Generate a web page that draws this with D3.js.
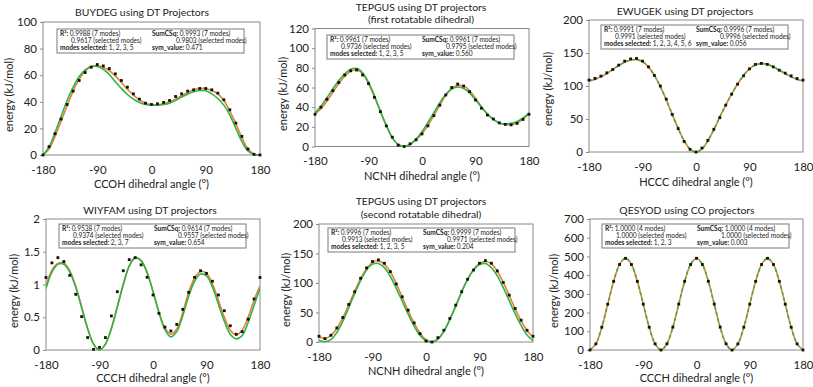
<!DOCTYPE html>
<html><head><meta charset="utf-8">
<script src="https://cdn.jsdelivr.net/npm/d3@7/dist/d3.min.js"></script>
<style>
body{margin:0;background:#fff}
svg{display:block}
text{font-family:Lato,"Open Sans",sans-serif;fill:#222}
</style>
</head><body>
<svg id="chart" width="813" height="387"></svg>
<script>
// ---------- DATA ----------
const angles = [-180,-170,-160,-150,-140,-130,-120,-110,-100,-90,-80,-70,-60,-50,-40,-30,-20,-10,0,10,20,30,40,50,60,70,80,90,100,110,120,130,140,150,160,170,180];
const xTicks = [-180,-90,0,90,180];

// BUYDEG
const buydegDots  = [0,6.3,16,27,38,48,56,62,66,68,67,65,61,56,51,46,42,39,38,38.5,39.5,41,44,46,48,49,50,50,49,46.5,41.5,34,24,14,4.5,0.5,0];
const buydegFit7  = [0,4.5,14,25.5,37,48,57,63,66.5,67,66,63.5,59.5,54.5,49.5,45,41.5,39,37.8,37.8,38.6,40,42,44.5,47,49,50,50,48.5,46,41,33,23.5,13,4.5,0.8,0];
const buydegFitSel= [0,6,17,29,41,51,59,64,66.5,66.5,64.5,60.5,55,50,45.5,42,39.5,38,37.5,37.5,38,39,41,43.5,45.7,47.5,48.5,48.3,46,42.5,37.5,30,20,10,3,0.3,0];
const buydegYTicks = [0,20,40,60,80,100];
const buydegInfo = ["0.9988 (7 modes)","0.9617 (selected modes)","1, 2, 3, 5","0.9993 (7 modes)","0.9803 (selected modes)","0.471"];

// TEPGUS first dihedral
const tepgus1Dots  = [32.8,40,48,56.8,65,72.7,77,77.8,72.7,64,50,35.5,21,9.5,1.4,0,2.7,6.8,12.8,21,31.4,42,52.4,60,63.5,61.5,55.8,47.3,38.9,32,28,24,22.5,22,23.5,27.5,32.8];
const tepgus1Fit7  = [33,38.5,46,55,64,71.5,76.5,78,74,64,50.5,35.5,21,9,2,0,2.5,7,13,21.5,31.5,42,52,59,62,61.5,57,49,40.5,33,27.5,24,22.3,22.3,24,28,33];
const tepgus1FitSel= [34,41,49.5,58.5,67,74,78.5,79.5,75,65.5,51.5,36,21.5,9,2,0,2,7.5,15,24.5,34.5,44.5,53,58.5,60.5,59,54.5,47.5,40,33,27.5,24,23,23.5,25.5,29,34];
const tepgus1YTicks = [0,20,40,60,80,100,120];
const tepgus1Info = ["0.9961 (7 modes)","0.9736 (selected modes)","1, 2, 3, 5","0.9961 (7 modes)","0.9795 (selected modes)","0.560"];

// EWUGEK
const ewugekDots  = [109,111.6,115,120,125,131.6,137.7,141,141.8,137.7,129,116,100,80,57,35.4,16,4,0,6,17.7,34.4,52,71,87.6,102.8,115.4,126,132.7,134.2,132.7,129,124,119.5,115.4,111.4,109];
const ewugekFit7  = [108,110,114,119,125,131,136,139.5,140,137,129,116,99,79,57,36,17,4.5,0,4.5,17,34,53,71,88,103,116,126,132,134,133,129,124,119,114,110,108];
const ewugekFitSel= [108,110,114,119,125,131,136,139.5,140,137,129,116,99,79,57,36,17,4.5,0,4.5,17,34,53,71,88,103,116,126,132,134,133,129,124,119,114,110,108];
const ewugekYTicks = [0,50,100,150,200];
const ewugekInfo = ["0.9991 (7 modes)","0.9991 (selected modes)","1, 2, 3, 4, 5, 6","0.9996 (7 modes)","0.9996 (selected modes)","0.056"];

// WIYFAM
const wiyfamDots  = [1.107,1.33,1.41,1.35,1.14,0.85,0.51,0.19,0.01,0.04,0.19,0.52,0.89,1.21,1.38,1.41,1.30,1.11,0.84,0.56,0.35,0.29,0.39,0.62,0.88,1.11,1.21,1.17,1.05,0.84,0.60,0.37,0.24,0.28,0.47,0.78,1.107];
const wiyfamFit7  = [0.98,1.22,1.32,1.33,1.21,0.97,0.65,0.33,0.09,0,0.09,0.33,0.66,1.0,1.28,1.41,1.37,1.19,0.9,0.58,0.34,0.24,0.32,0.57,0.88,1.10,1.2,1.17,1.01,0.76,0.5,0.3,0.23,0.3,0.5,0.76,0.98];
const wiyfamFitSel= [0.94,1.19,1.31,1.31,1.19,0.96,0.65,0.33,0.09,0,0.09,0.33,0.66,1.0,1.28,1.41,1.36,1.18,0.89,0.57,0.31,0.2,0.28,0.52,0.82,1.05,1.16,1.13,0.96,0.7,0.44,0.24,0.17,0.22,0.42,0.68,0.94];
const wiyfamYTicks = [0,0.5,1,1.5,2];
const wiyfamInfo = ["0.9538 (7 modes)","0.9374 (selected modes)","2, 3, 7","0.9614 (7 modes)","0.9557 (selected modes)","0.654"];

// TEPGUS second dihedral
const tepgus2Dots  = [9.7,5.7,11.4,23.9,41.5,63.6,85.2,108,125.6,136.4,139.2,133.5,119.3,98.3,76.7,54,32.4,14.2,1.7,0,7.4,19.9,39.8,62.5,85.2,106.3,122,133.5,138,133.5,120.5,101,79.5,56.8,37,19.9,9.7];
const tepgus2Fit7  = [9,6,11,23,41,63,86,107,124,135,137.5,132,119,99,76,53,32,15,4,0.5,5,18,38,61,85,106,123,133,136.5,132.5,120,101,79,56,36,19,9];
const tepgus2FitSel= [2.5,0.5,4,16,35,58,82,104,122,132,133,126,111,91,69,47,27,11,2,0,5,18,38,61,85,106,122,131.5,133,126,112,92,70,48,28,12,2.5];
const tepgus2YTicks = [0,50,100,150,200];
const tepgus2Info = ["0.9996 (7 modes)","0.9913 (selected modes)","1, 2, 3, 5","0.9999 (7 modes)","0.9971 (selected modes)","0.204"];

// QESYOD
const qesyodDots  = [0,33,122,245,367,457,490,457,367,245,122,33,0,33,122,245,367,457,490,457,367,245,122,33,0,33,122,245,367,457,490,457,367,245,122,33,0];
const qesyodFit7  = [0,33,122,245,367,457,490,457,367,245,122,33,0,33,122,245,367,457,490,457,367,245,122,33,0,33,122,245,367,457,490,457,367,245,122,33,0];
const qesyodFitSel= [0,33,122,245,367,457,490,457,367,245,122,33,0,33,122,245,367,457,490,457,367,245,122,33,0,33,122,245,367,457,490,457,367,245,122,33,0];
const qesyodYTicks = [0,100,200,300,400,500,600,700];
const qesyodInfo = ["1.0000 (4 modes)","1.0000 (selected modes)","1, 2, 3","1.0000 (4 modes)","1.0000 (selected modes)","0.003"];

const titles = [
  ["BUYDEG using DT Projectors"],
  ["TEPGUS using DT projectors","(first rotatable dihedral)"],
  ["EWUGEK using DT projectors"],
  ["WIYFAM using DT projectors"],
  ["TEPGUS using DT projectors","(second rotatable dihedral)"],
  ["QESYOD using CO projectors"]
];
const xLabels = ["CCOH dihedral angle (°)","NCNH dihedral angle (°)","HCCC dihedral angle (°)","CCCH dihedral angle (°)","NCNH dihedral angle (°)","CCCH dihedral angle (°)"];
const yLabel = "energy (kJ/mol)";

// ---------- LAYOUT ----------
const layout = [
  {x:43,  y:22,  w:217, h:133, tx:142, ty:[16],       xtt:188, ytx:12.5, yty:95,  bx:57,  by:29,  dash:null},
  {x:315, y:28.5,w:214, h:118, tx:421, ty:[10.5,22.5],xtt:180, ytx:287, yty:94,  bx:327, by:35,  dash:null},
  {x:589, y:20,  w:214, h:132, tx:685, ty:[15],       xtt:186, ytx:552, yty:89,  bx:601, by:25,  dash:"3,3"},
  {x:46,  y:219, w:214, h:131, tx:150, ty:[214],      xtt:382, ytx:18,  yty:291, bx:59,  by:224, dash:null},
  {x:319, y:224, w:214, h:118, tx:421, ty:[205,218],  xtt:375, ytx:290, yty:290, bx:328, by:228, dash:null},
  {x:590, y:219, w:213, h:131, tx:687, ty:[214],      xtt:382, ytx:558, yty:291, bx:602, by:224, dash:"3,3"}
];

const panels = [
  {dots:buydegDots,  f7:buydegFit7,  fs:buydegFitSel,  yt:buydegYTicks,  info:buydegInfo},
  {dots:tepgus1Dots, f7:tepgus1Fit7, fs:tepgus1FitSel, yt:tepgus1YTicks, info:tepgus1Info},
  {dots:ewugekDots,  f7:ewugekFit7,  fs:ewugekFitSel,  yt:ewugekYTicks,  info:ewugekInfo},
  {dots:wiyfamDots,  f7:wiyfamFit7,  fs:wiyfamFitSel,  yt:wiyfamYTicks,  info:wiyfamInfo},
  {dots:tepgus2Dots, f7:tepgus2Fit7, fs:tepgus2FitSel, yt:tepgus2YTicks, info:tepgus2Info},
  {dots:qesyodDots,  f7:qesyodFit7,  fs:qesyodFitSel,  yt:qesyodYTicks,  info:qesyodInfo}
];

const ORANGE = "#ED7D31", GREEN = "#2DB54B", FRAME = "#8a8a8a";
const svg = d3.select("#chart");

panels.forEach((p, i) => {
  const L = layout[i];
  const yMax = p.yt[p.yt.length - 1];
  const xs = d3.scaleLinear().domain([-180, 180]).range([L.x, L.x + L.w]);
  const ys = d3.scaleLinear().domain([0, yMax]).range([L.y + L.h, L.y]);
  const g = svg.append("g");

  // title
  titles[i].forEach((t, k) => {
    g.append("text").attr("x", L.tx).attr("y", L.ty[k]).attr("text-anchor", "middle")
      .style("font-size", "10.4px").text(t);
  });

  // clip
  const clipId = "clip" + i;
  svg.append("clipPath").attr("id", clipId).append("rect")
    .attr("x", L.x).attr("y", L.y - 2).attr("width", L.w).attr("height", L.h + 4);

  // y axis
  const ya = g.append("g").attr("transform", `translate(${L.x},0)`)
    .call(d3.axisLeft(ys).tickValues(p.yt).tickSize(3).tickPadding(3).tickFormat(d => String(d)));
  ya.select(".domain").remove();
  ya.selectAll("line").attr("stroke", FRAME);
  ya.selectAll("text").style("font-size", "11.5px").style("font-family", "Lato").attr("fill", "#222");

  // x axis
  const xa = g.append("g").attr("transform", `translate(0,${L.y + L.h})`)
    .call(d3.axisBottom(xs).tickValues(xTicks).tickSize(0).tickPadding(0).tickFormat(d => String(d)));
  xa.select(".domain").remove();
  xa.selectAll("text").attr("dy", null).attr("y", 18.5)
    .style("font-size", "11.5px").style("font-family", "Lato").attr("fill", "#222");

  // frame
  g.append("rect").attr("x", L.x).attr("y", L.y).attr("width", L.w).attr("height", L.h)
    .attr("fill", "none").attr("stroke", FRAME).attr("stroke-width", 1);

  // axis titles
  g.append("text").attr("x", L.x + L.w / 2).attr("y", L.xtt).attr("text-anchor", "middle")
    .style("font-size", "11px").text(xLabels[i]);
  g.append("text").attr("transform", `translate(${L.ytx},${L.yty}) rotate(-90)`).attr("text-anchor", "middle")
    .style("font-size", "11px").text(yLabel);

  // curves
  const line = (arr) => d3.line().x((d, j) => xs(angles[j])).y(d => ys(d)).curve(d3.curveCatmullRom.alpha(0.5))(arr);
  const cg = g.append("g").attr("clip-path", `url(#${clipId})`);
  cg.append("path").attr("d", line(p.f7)).attr("fill", "none").attr("stroke", ORANGE).attr("stroke-width", 1.6);
  const gp = cg.append("path").attr("d", line(p.fs)).attr("fill", "none").attr("stroke", GREEN).attr("stroke-width", 1.6);
  if (L.dash) gp.attr("stroke-dasharray", L.dash);

  // dots
  g.append("g").selectAll("rect").data(p.dots).join("rect")
    .attr("x", (d, j) => xs(angles[j]) - 1.4).attr("y", d => ys(d) - 1.4)
    .attr("width", 2.8).attr("height", 2.8).attr("fill", "#111");

  // info box
  const bw = 187, bh = 24;
  const box = g.append("g");
  box.append("rect").attr("x", L.bx).attr("y", L.by).attr("width", bw).attr("height", bh)
    .attr("fill", "#fff").attr("stroke", "#7a7a7a").attr("stroke-width", 1);
  const row = (x, y, label, val) => {
    const t = box.append("text").attr("x", x).attr("y", y).style("font-size", "6.6px").attr("fill", "#333");
    if (label) t.append("tspan").style("font-weight", "bold").attr("fill", "#222").text(label);
    t.append("tspan").text(val);
  };
  row(L.bx + 3, L.by + 7.2, "R²: ", p.info[0]);
  row(L.bx + 14, L.by + 14.2, null, p.info[1]);
  row(L.bx + 3, L.by + 21.2, "modes selected: ", p.info[2]);
  row(L.bx + 95, L.by + 7.2, "SumCSq: ", p.info[3]);
  row(L.bx + 119, L.by + 14.2, null, p.info[4]);
  row(L.bx + 95, L.by + 21.2, "sym_value: ", p.info[5]);
});
</script>
</body></html>
